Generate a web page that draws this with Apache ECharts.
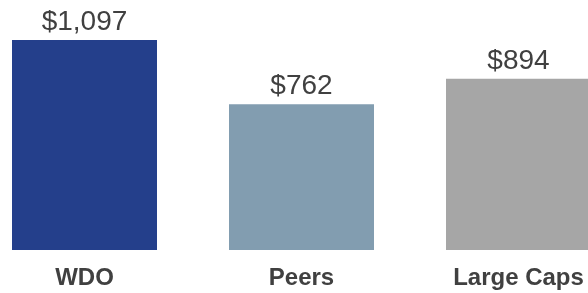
<!DOCTYPE html>
<html><head><meta charset="utf-8">
<script src="https://cdn.jsdelivr.net/npm/echarts@6/dist/echarts.min.js"></script>
<style>html,body{margin:0;padding:0;background:#fff}#c{width:588px;height:293px}</style>
</head><body><div id="c"></div>
<script>
const categories = ['WDO', 'Peers', 'Large Caps'];
const values = [1097, 762, 894];
const colors = ['#243F8B', '#829DB0', '#A6A6A6'];
const chart = echarts.init(document.getElementById('c'));
chart.setOption({
  animation: false,
  grid: { left: -24, width: 651, top: 0, bottom: 43, containLabel: false, outerBoundsMode: 'none' },
  xAxis: {
    type: 'category', data: categories,
    axisLine: { show: false }, axisTick: { show: false },
    axisLabel: { margin: 16, fontFamily: 'Liberation Sans, Arial', fontWeight: 'bold', fontSize: 24, color: '#404040' }
  },
  yAxis: { type: 'value', min: 0, max: 1306, show: false, splitLine: { show: false } },
  series: [{
    type: 'bar', barWidth: 145,
    data: values.map((v, i) => ({ value: v, itemStyle: { color: colors[i] } })),
    label: {
      show: true, position: 'top', distance: 4,
      fontFamily: 'Liberation Sans, Arial', fontSize: 28, color: '#404040',
      formatter: p => '$' + p.value.toLocaleString('en-US')
    }
  }]
});
</script></body></html>
